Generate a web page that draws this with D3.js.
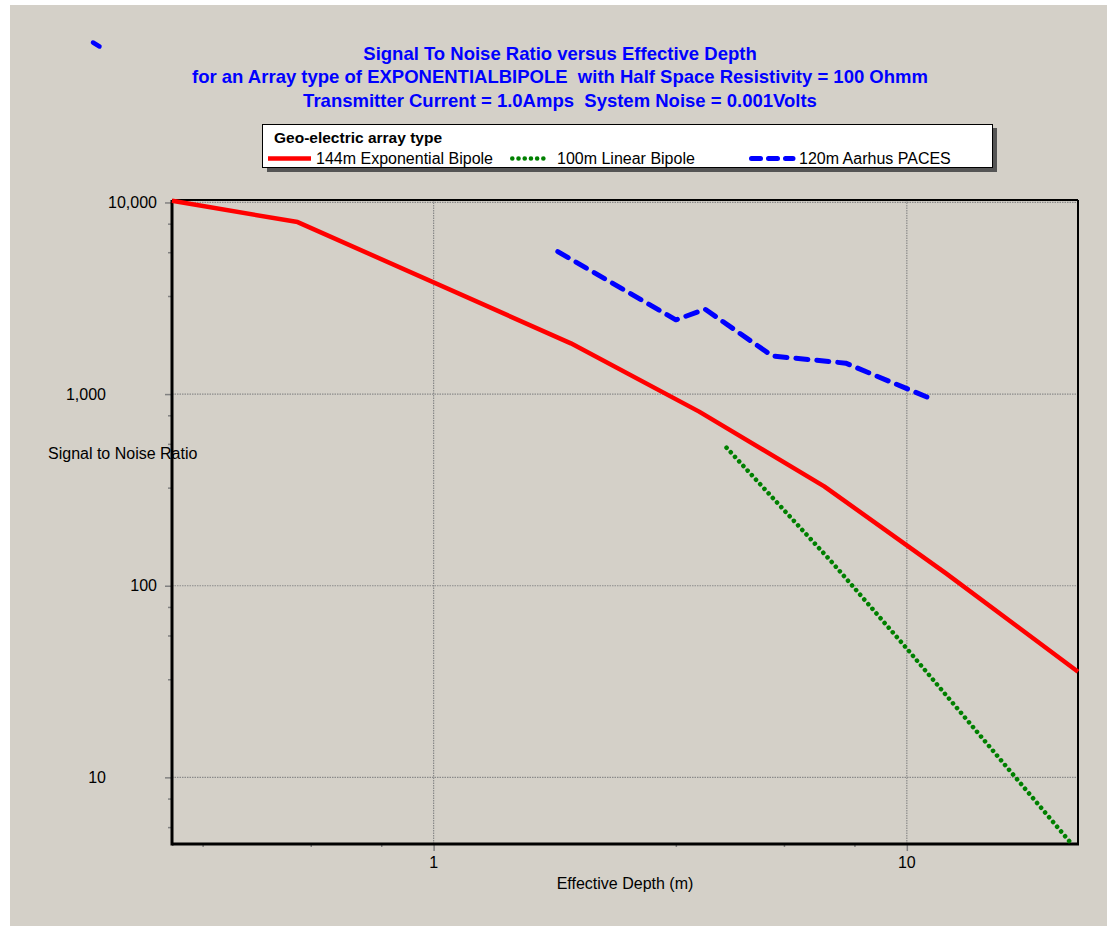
<!DOCTYPE html>
<html>
<head>
<meta charset="utf-8">
<script src="https://cdn.jsdelivr.net/npm/d3@7"></script>
<style>
  html, body { margin: 0; padding: 0; background: #ffffff; }
  svg { display: block; }
  text { font-family: "Liberation Sans", Arial, sans-serif; white-space: pre; }
</style>
</head>
<body>
<svg id="chart" width="1107" height="926"></svg>
<script>
// ---------- data ----------
const titleLines = [
  "Signal To Noise Ratio versus Effective Depth",
  "for an Array type of EXPONENTIALBIPOLE  with Half Space Resistivity = 100 Ohmm",
  "Transmitter Current = 1.0Amps  System Noise = 0.001Volts"
];
const legendTitle = "Geo-electric array type";
const seriesNames = ["144m Exponential Bipole", "100m Linear Bipole", "120m Aarhus PACES"];

const depthExp = [0.28, 0.516, 1.95, 3.64, 6.69, 12.1, 23];
const snrExp   = [10200, 7900, 1840, 810, 330, 116, 35.6];

const depthLin = [4.16, 6.94, 10, 14.7, 19.8, 22.1];
const snrLin   = [525, 133, 47, 15.2, 6.36, 4.61];

const depthAarhus = [1.83, 3.25, 3.75, 5.2, 7.43, 11.2];
const snrAarhus   = [5540, 2440, 2770, 1580, 1450, 950];

const xMajorTicks = [1, 10];
const xTickLabels = ["1", "10"];
const yMajorTicks = [10, 100, 1000, 10000];
const yTickLabels = ["10", "100", "1,000", "10,000"];
const minorMultipliers = [3.25, 5.5, 7.75];

const xDomain = [0.28, 23];
const yDomain = [4.49, 10300];

const xLabel = "Effective Depth (m)";
const yLabel = "Signal to Noise Ratio";

// ---------- layout ----------
const svg = d3.select("#chart");
const W = 1107, H = 926;
const plot = { left: 172, right: 1078, top: 200, bottom: 844 };

svg.append("rect").attr("x", 10).attr("y", 5).attr("width", W - 10).attr("height", H - 5)
  .attr("fill", "#d4d0c8");

const x = d3.scaleLog().domain(xDomain).range([plot.left, plot.right]);
const y = d3.scaleLog().domain(yDomain).range([plot.bottom, plot.top]);

// minor ticks
const xMinor = [];
[0.1, 1, 10].forEach(d => minorMultipliers.forEach(m => {
  const v = d * m; if (v > xDomain[0] && v < xDomain[1]) xMinor.push(v);
}));
const yMinor = [];
[1, 10, 100, 1000].forEach(d => minorMultipliers.forEach(m => {
  const v = d * m; if (v > yDomain[0] && v < yDomain[1]) yMinor.push(v);
}));

// grid lines (major only)
const grid = svg.append("g").attr("stroke", "#8a8a8a").attr("stroke-width", 1.2)
  .attr("stroke-dasharray", "1.5,1");
grid.selectAll("line.gx").data(xMajorTicks).join("line")
  .attr("x1", d => x(d)).attr("x2", d => x(d))
  .attr("y1", plot.top).attr("y2", plot.bottom);
grid.selectAll("line.gy").data(yMajorTicks).join("line")
  .attr("y1", d => y(d)).attr("y2", d => y(d))
  .attr("x1", plot.left).attr("x2", plot.right);

// axes via d3
const yAxisMajor = d3.axisLeft(y).tickValues(yMajorTicks).tickSize(7).tickFormat("");
const yAxisMinor = d3.axisLeft(y).tickValues(yMinor).tickSize(4).tickFormat("");
const xAxisMajor = d3.axisBottom(x).tickValues(xMajorTicks).tickSize(7).tickFormat("");
const xAxisMinor = d3.axisBottom(x).tickValues(xMinor).tickSize(3).tickFormat("");

function styleAxis(g) {
  g.select(".domain").remove();
  g.selectAll(".tick line").attr("stroke", "#808080").attr("stroke-width", 1.5);
}
svg.append("g").attr("transform", `translate(${plot.left},0)`).call(yAxisMajor).call(styleAxis);
svg.append("g").attr("transform", `translate(${plot.left},0)`).call(yAxisMinor).call(styleAxis);
svg.append("g").attr("transform", `translate(0,${plot.bottom})`).call(xAxisMajor).call(styleAxis);
svg.append("g").attr("transform", `translate(0,${plot.bottom})`).call(xAxisMinor).call(styleAxis);

// tick labels
svg.append("g").selectAll("text").data(yMajorTicks).join("text")
  .attr("x", (d, i) => (i % 2 === 0 ? 106 : 157))
  .attr("y", d => y(d)).attr("dy", "0.36em")
  .attr("text-anchor", "end").attr("font-size", 16).attr("fill", "#000")
  .text((d, i) => yTickLabels[i]);
svg.append("g").selectAll("text").data(xMajorTicks).join("text")
  .attr("x", d => x(d)).attr("y", 868)
  .attr("text-anchor", "middle").attr("font-size", 16).attr("fill", "#000")
  .text((d, i) => xTickLabels[i]);

// axis titles
svg.append("text").attr("x", 625).attr("y", 889).attr("text-anchor", "middle")
  .attr("font-size", 16).attr("fill", "#000").text(xLabel);
svg.append("text").attr("x", 48).attr("y", 459).attr("text-anchor", "start")
  .attr("font-size", 16).attr("fill", "#000").text(yLabel);

// plot frame
svg.append("line").attr("x1", plot.left).attr("x2", plot.right).attr("y1", plot.top).attr("y2", plot.top)
  .attr("stroke", "#000").attr("stroke-width", 2);
svg.append("line").attr("x1", plot.right).attr("x2", plot.right).attr("y1", plot.top).attr("y2", plot.bottom)
  .attr("stroke", "#000").attr("stroke-width", 2);
svg.append("line").attr("x1", plot.left).attr("x2", plot.left).attr("y1", plot.top).attr("y2", plot.bottom + 1.5)
  .attr("stroke", "#000").attr("stroke-width", 3);
svg.append("line").attr("x1", plot.left).attr("x2", plot.right + 1).attr("y1", plot.bottom).attr("y2", plot.bottom)
  .attr("stroke", "#000").attr("stroke-width", 3);

// series
const line = d3.line().x(d => x(d[0])).y(d => y(d[1]));
const series = [
  { name: seriesNames[0], pts: d3.zip(depthExp, snrExp), color: "#ff0000", width: 4.5, dash: null, cap: "butt" },
  { name: seriesNames[1], pts: d3.zip(depthLin, snrLin), color: "#008000", width: 4.6, dash: "0.01,6.2", cap: "round" },
  { name: seriesNames[2], pts: d3.zip(depthAarhus, snrAarhus), color: "#0000ff", width: 5, dash: "12,9", cap: "round" }
];
const clip = svg.append("clipPath").attr("id", "clip").append("rect")
  .attr("x", plot.left - 1).attr("y", plot.top - 2)
  .attr("width", plot.right - plot.left + 3).attr("height", plot.bottom - plot.top + 3);
const sg = svg.append("g").attr("clip-path", "url(#clip)");
series.forEach(s => {
  sg.append("path").datum(s.pts).attr("d", line)
    .attr("fill", "none").attr("stroke", s.color).attr("stroke-width", s.width)
    .attr("stroke-linecap", s.cap).attr("stroke-linejoin", "round")
    .attr("stroke-dasharray", s.dash);
});

// stray blue mark at top-left
svg.append("line").attr("x1", 93).attr("y1", 42.5).attr("x2", 99.5).attr("y2", 46.5)
  .attr("stroke", "#0000ff").attr("stroke-width", 4.5).attr("stroke-linecap", "round");

// title
svg.append("g").selectAll("text").data(titleLines).join("text")
  .attr("x", 560).attr("y", (d, i) => 59.5 + i * 23.5)
  .attr("text-anchor", "middle").attr("font-size", 18.5).attr("font-weight", "bold")
  .attr("fill", "#0000ff").text(d => d);

// legend
const lg = svg.append("g");
lg.append("rect").attr("x", 267).attr("y", 128).attr("width", 730).attr("height", 44).attr("fill", "#555");
lg.append("rect").attr("x", 262.5).attr("y", 124.5).attr("width", 730).attr("height", 43)
  .attr("fill", "#fff").attr("stroke", "#000").attr("stroke-width", 1);
lg.append("text").attr("x", 274).attr("y", 143).attr("font-size", 15.5).attr("font-weight", "bold")
  .attr("fill", "#000").text(legendTitle);
const legendX = [268, 510, 749];
const legendTextX = [316, 557, 799];
series.forEach((s, i) => {
  const lx = legendX[i];
  const len = i === 1 ? 38 : (i === 2 ? 44 : 43);
  lg.append("line").attr("x1", lx + (s.cap === "round" ? s.width / 2 : 0)).attr("x2", lx + len)
    .attr("y1", 158.5).attr("y2", 158.5)
    .attr("stroke", s.color).attr("stroke-width", s.width)
    .attr("stroke-linecap", s.cap).attr("stroke-dasharray", i === 2 ? "9,8" : s.dash);
  lg.append("text").attr("x", legendTextX[i]).attr("y", 164).attr("font-size", 16).attr("fill", "#000").text(s.name);
});
</script>
</body>
</html>
